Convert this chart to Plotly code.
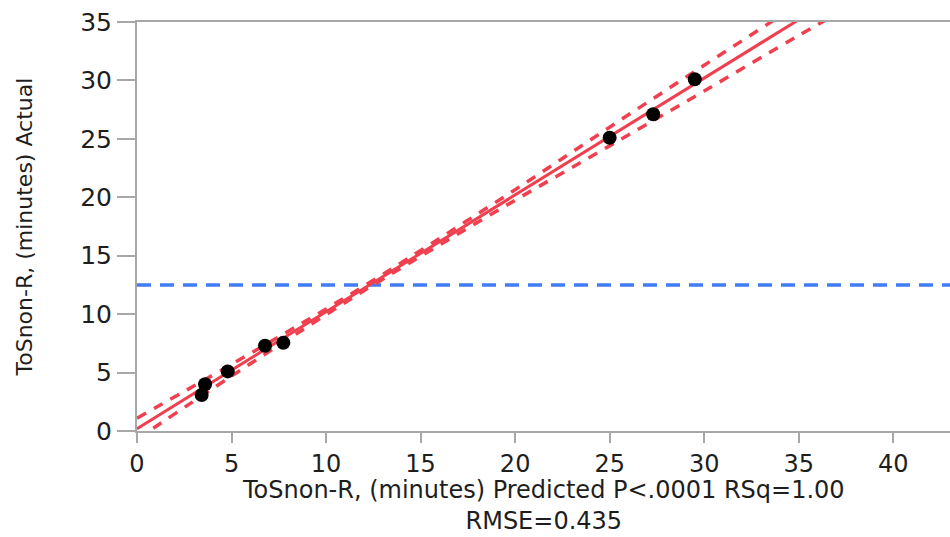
import plotly.graph_objects as go

# Data (Actual by Predicted plot)
predicted = [3.42, 3.6, 4.8, 6.77, 7.74, 25.0, 27.3, 29.5]
actual = [3.08, 4.0, 5.1, 7.3, 7.55, 25.1, 27.1, 30.1]

fit_x = [0, 40]
fit_y = [0.2, 40.2]

band_x = [0, 5, 10, 12.5, 15, 20, 25, 30, 35, 38]
band_upper = [1.1, 5.7, 10.45, 12.9, 15.45, 20.65, 26.0, 31.3, 36.55, 39.8]
band_lower = [-0.7, 4.7, 9.95, 12.5, 14.95, 19.75, 24.4, 29.1, 33.85, 36.6]

mean_line_x = [0, 45]
mean_line_y = [12.5, 12.5]

x_ticks = [0, 5, 10, 15, 20, 25, 30, 35, 40]
y_ticks = [0, 5, 10, 15, 20, 25, 30, 35]

RED = "#f0404f"
BLUE = "#3f7cf5"
FONT = "DejaVu Sans"
TXT = "#1e1e1e"

fig = go.Figure()
fig.add_trace(go.Scatter(x=mean_line_x, y=mean_line_y, mode="lines",
                         line=dict(color=BLUE, width=3.5, dash="14px,9px"),
                         hoverinfo="skip", showlegend=False))
fig.add_trace(go.Scatter(x=band_x, y=band_upper, mode="lines", line_shape="spline",
                         line=dict(color=RED, width=3.5, dash="10px,9px"),
                         hoverinfo="skip", showlegend=False))
fig.add_trace(go.Scatter(x=band_x, y=band_lower, mode="lines", line_shape="spline",
                         line=dict(color=RED, width=3.5, dash="10px,9px"),
                         hoverinfo="skip", showlegend=False))
fig.add_trace(go.Scatter(x=fit_x, y=fit_y, mode="lines",
                         line=dict(color=RED, width=3),
                         hoverinfo="skip", showlegend=False))
fig.add_trace(go.Scatter(x=predicted, y=actual, mode="markers",
                         marker=dict(color="black", size=14),
                         showlegend=False))

fig.update_layout(
    width=950, height=537,
    margin=dict(l=137, r=0, t=22, b=106),
    paper_bgcolor="white", plot_bgcolor="white",
    font=dict(family=FONT, size=24, color=TXT),
    xaxis=dict(range=[0, 43.0], tickvals=x_ticks, showgrid=False, zeroline=False,
               showline=True, linecolor="#a8a8a8", linewidth=2, mirror=True,
               ticks="outside", ticklen=10, tickwidth=2, tickcolor="#a8a8a8",
               tickfont=dict(family=FONT, size=24, color=TXT)),
    yaxis=dict(range=[0, 35], tickvals=y_ticks, showgrid=False, zeroline=False,
               showline=True, linecolor="#a8a8a8", linewidth=2, mirror=False,
               ticks="outside", ticklen=18, tickwidth=2, tickcolor="#a8a8a8",
               tickfont=dict(family=FONT, size=25, color=TXT)),
    annotations=[
        dict(text="ToSnon-R, (minutes) Actual", xref="paper", yref="paper",
             x=-0.1378, y=0.5, textangle=-90, showarrow=False,
             xanchor="center", yanchor="middle",
             font=dict(family=FONT, size=22, color=TXT)),
        dict(text="ToSnon-R, (minutes) Predicted P&lt;.0001 RSq=1.00<br>RMSE=0.435",
             xref="paper", yref="paper", align="center",
             x=0.5, y=-0.181, showarrow=False, xanchor="center", yanchor="middle",
             font=dict(family=FONT, size=24, color=TXT)),
    ],
)

fig.write_html("out.html")
